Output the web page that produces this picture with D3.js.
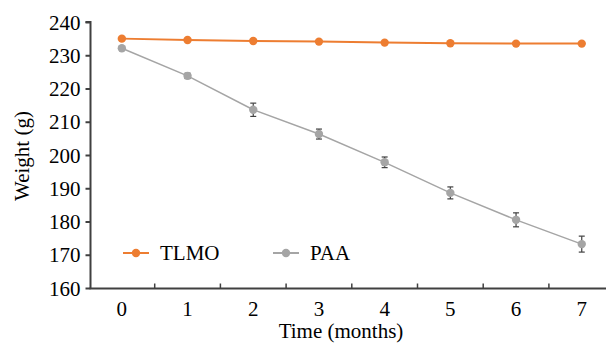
<!DOCTYPE html>
<html>
<head>
<meta charset="utf-8">
<script src="https://cdn.jsdelivr.net/npm/d3@7"></script>
<style>
  body { margin: 0; background: #fff; }
  svg { display: block; }
  svg text { font-family: "Liberation Serif", "Times New Roman", serif; font-size: 21px; fill: #000; }
</style>
</head>
<body>
<div id="chart"></div>
<script>
const months = [0, 1, 2, 3, 4, 5, 6, 7];
const tlmo = [235.0, 234.6, 234.3, 234.1, 233.8, 233.6, 233.5, 233.5];
const paa = [232.1, 223.8, 213.6, 206.3, 197.8, 188.6, 180.5, 173.2];
const paaErr = [0.5, 0.8, 2.0, 1.5, 1.6, 1.8, 2.1, 2.4];
const yTicks = [160, 170, 180, 190, 200, 210, 220, 230, 240];
const seriesNames = ["TLMO", "PAA"];

const width = 606, height = 346;
const colors = { TLMO: "#ED7D31", PAA: "#A5A5A5" };
const axisColor = "#404040";

const svg = d3.select("#chart").append("svg")
  .attr("width", width)
  .attr("height", height);

const x = d3.scaleBand().domain(months).range([89, 614.6]);
const y = d3.scaleLinear().domain([160, 240]).range([288, 22]);
const cx = d => x(d) + x.bandwidth() / 2;

// y axis
const yAxis = svg.append("g")
  .attr("transform", "translate(90.5,0)")
  .call(d3.axisLeft(y).tickValues(yTicks).tickSize(5).tickPadding(5));
yAxis.attr("font-family", null).attr("font-size", null);
yAxis.select(".domain").attr("stroke", axisColor).attr("stroke-width", 2)
  .attr("d", `M-5,${y(240)}H0V${y(160) + 1}`);
yAxis.selectAll(".tick line").attr("stroke", axisColor).attr("stroke-width", 2);
yAxis.selectAll(".tick text").attr("dy", "0.34em");

// x axis
const xAxis = svg.append("g").attr("transform", "translate(0,288.5)");
xAxis.append("line")
  .attr("x1", 89.5).attr("x2", width)
  .attr("stroke", axisColor).attr("stroke-width", 2);
xAxis.selectAll(".xt")
  .data(months.slice(1))
  .join("line")
  .attr("x1", d => x(d)).attr("x2", d => x(d))
  .attr("y1", 0).attr("y2", -5)
  .attr("stroke", axisColor).attr("stroke-width", 1.5);
xAxis.selectAll(".xl")
  .data(months)
  .join("text")
  .attr("x", d => cx(d))
  .attr("y", 27)
  .attr("text-anchor", "middle")
  .text(d => d);

// axis titles
svg.append("text")
  .attr("transform", "translate(29,156) rotate(-90)")
  .attr("text-anchor", "middle")
  .text("Weight (g)");
svg.append("text")
  .attr("x", 341).attr("y", 338)
  .attr("text-anchor", "middle")
  .text("Time (months)");

const line = d3.line().x((d, i) => cx(months[i])).y(d => y(d));

// PAA series
svg.append("path").datum(paa)
  .attr("fill", "none").attr("stroke", colors.PAA).attr("stroke-width", 1.5)
  .attr("d", line);
const eb = svg.append("g").attr("stroke", axisColor).attr("stroke-width", 1.2);
paa.forEach((v, i) => {
  const xx = cx(months[i]);
  eb.append("line").attr("x1", xx).attr("x2", xx)
    .attr("y1", y(v - paaErr[i])).attr("y2", y(v + paaErr[i]));
  [v - paaErr[i], v + paaErr[i]].forEach(e => {
    eb.append("line").attr("x1", xx - 3).attr("x2", xx + 3)
      .attr("y1", y(e)).attr("y2", y(e));
  });
});
svg.append("g").selectAll("circle").data(paa).join("circle")
  .attr("cx", (d, i) => cx(months[i])).attr("cy", d => y(d))
  .attr("r", 4.2).attr("fill", colors.PAA);

// TLMO series
svg.append("path").datum(tlmo)
  .attr("fill", "none").attr("stroke", colors.TLMO).attr("stroke-width", 2)
  .attr("d", line);
svg.append("g").selectAll("circle").data(tlmo).join("circle")
  .attr("cx", (d, i) => cx(months[i])).attr("cy", d => y(d))
  .attr("r", 4.2).attr("fill", colors.TLMO);

// legend
const legX = [123, 273];
const legend = svg.append("g").attr("transform", "translate(0,253)");
seriesNames.forEach((name, i) => {
  const g = legend.append("g").attr("transform", `translate(${legX[i]},0)`);
  g.append("line").attr("x1", 0).attr("x2", 26)
    .attr("stroke", colors[name]).attr("stroke-width", 2);
  g.append("circle").attr("cx", 13).attr("r", 4.2).attr("fill", colors[name]);
  g.append("text").attr("x", 37).attr("y", 7).text(name);
});
</script>
</body>
</html>
